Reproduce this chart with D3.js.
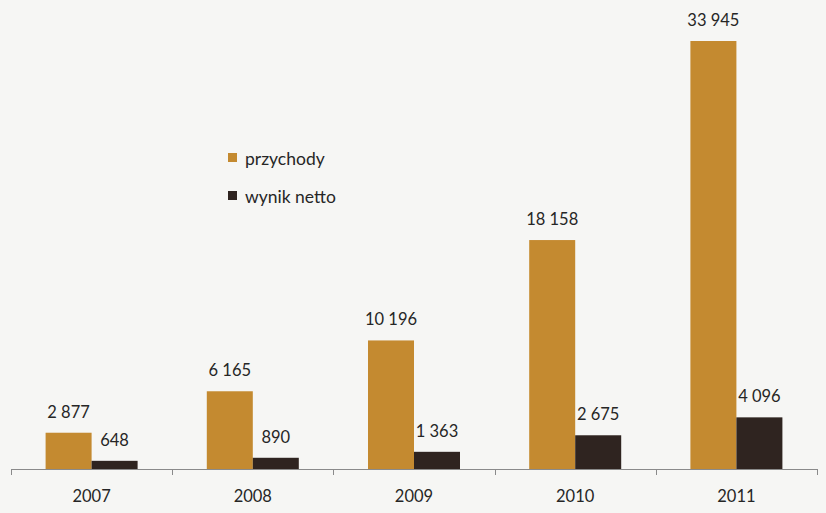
<!DOCTYPE html>
<html>
<head>
<meta charset="utf-8">
<script src="https://cdn.jsdelivr.net/npm/d3@7"></script>
<style>
  body { margin: 0; background: #f6f6f4; }
  text { font-family: Lato, "Open Sans", sans-serif; fill: #262626; }
</style>
</head>
<body>
<svg id="chart"></svg>
<script>
	// chart size
	var w = 826;
	var h = 513;

	// data
	var years = ["2007", "2008", "2009", "2010", "2011"];
	var przychody = [2877, 6165, 10196, 18158, 33945];
	var wynikNetto = [648, 890, 1363, 2675, 4096];
	var seriesNames = ["przychody", "wynik netto"];
	var colors = ["#c48a30", "#2f2420"];

	var fmt = function(v) { return d3.format(",")(v).replace(/,/g, " "); };

	var svg = d3.select("#chart")
		.attr("width", w)
		.attr("height", h);

	// scales
	var xScale = d3.scaleBand()
		.domain(years)
		.range([11, 817]);

	var barW = 46;

	var yScale = d3.scaleLinear()
		.domain([0, 35000])
		.range([469, 27.7]);

	// bars + labels for both series
	var series = [przychody, wynikNetto];

	series.forEach(function(vals, s) {
		var g = svg.append("g");

		g.selectAll("rect")
			.data(vals)
			.enter()
			.append("rect")
			.attr("x", function(d, i) {
				return xScale(years[i]) + xScale.bandwidth() / 2 - barW + s * barW;
			})
			.attr("y", function(d) { return yScale(d); })
			.attr("width", barW)
			.attr("height", function(d) { return yScale(0) - yScale(d); })
			.attr("fill", colors[s]);

		g.selectAll("text")
			.data(vals)
			.enter()
			.append("text")
			.attr("x", function(d, i) {
				return xScale(years[i]) + xScale.bandwidth() / 2 - barW / 2 + s * barW;
			})
			.attr("y", function(d) { return yScale(d) - 15; })
			.attr("text-anchor", "middle")
			.attr("font-size", 16.5)
			.text(function(d) { return fmt(d); });
	});

	// x axis with ticks at band edges
	var axis = svg.append("g");

	axis.append("line")
		.attr("x1", xScale.range()[0])
		.attr("x2", xScale.range()[1])
		.attr("y1", 469.5)
		.attr("y2", 469.5)
		.attr("stroke", "#8a8a8a");

	var edges = years.map(function(y) { return xScale(y); }).concat([xScale.range()[1]]);

	axis.selectAll(".tick")
		.data(edges)
		.enter()
		.append("line")
		.attr("x1", function(d) { return Math.round(d) + 0.5; })
		.attr("x2", function(d) { return Math.round(d) + 0.5; })
		.attr("y1", 469)
		.attr("y2", 475)
		.attr("stroke", "#8a8a8a");

	axis.selectAll(".yr")
		.data(years)
		.enter()
		.append("text")
		.attr("x", function(d) { return xScale(d) + xScale.bandwidth() / 2; })
		.attr("y", 502)
		.attr("text-anchor", "middle")
		.attr("font-size", 16.5)
		.text(function(d) { return d; });

	// legend
	var legend = svg.append("g");

	seriesNames.forEach(function(name, i) {
		legend.append("rect")
			.attr("x", 228)
			.attr("y", 153 + i * 38)
			.attr("width", 9)
			.attr("height", 9)
			.attr("fill", colors[i]);

		legend.append("text")
			.attr("x", 245)
			.attr("y", 165 + i * 38)
			.attr("font-size", 17.5)
			.text(name);
	});
</script>
</body>
</html>
